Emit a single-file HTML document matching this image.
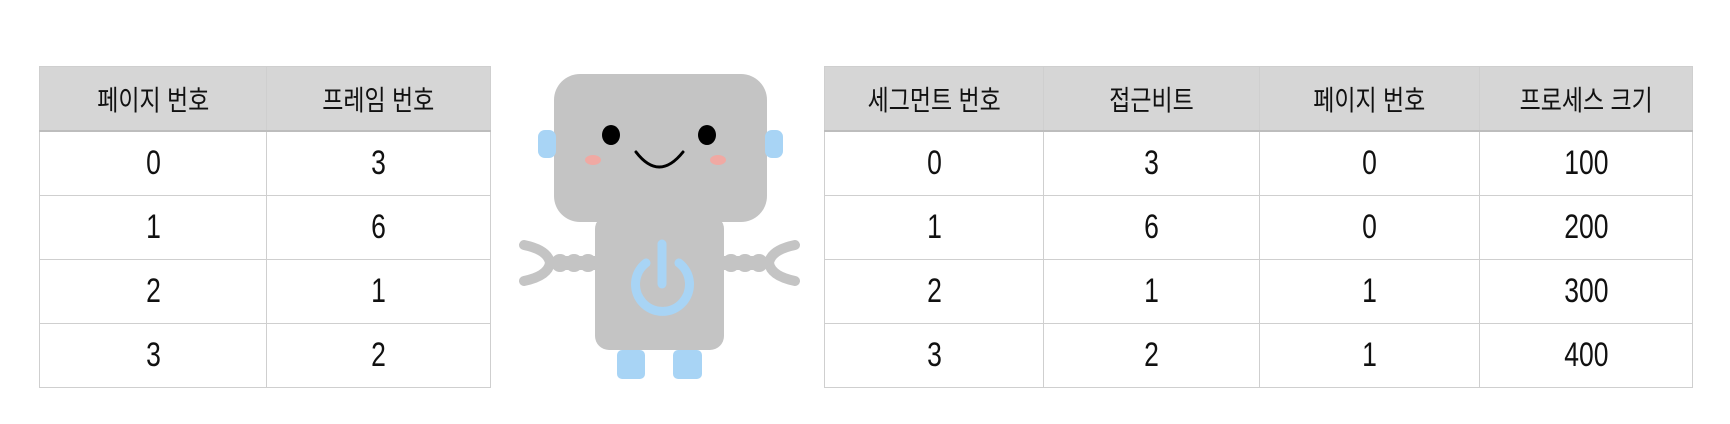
<!DOCTYPE html>
<html><head><meta charset="utf-8">
<style>
html,body{margin:0;padding:0;background:#fff;width:1730px;height:424px;overflow:hidden;}
table{position:absolute;border-collapse:collapse;font-family:"Liberation Sans","Noto Sans CJK KR",sans-serif;color:#111;}
td,th{border:1px solid #cfcfcf;text-align:center;padding:0;}
th{background:#d6d6d6;font-weight:normal;font-size:28px;height:63px;border-bottom:2px solid #bdbdbd;}
td{font-size:34px;height:63px;background:#fff;}
th span{display:inline-block;transform:scaleX(0.82);white-space:nowrap;}
td span{display:inline-block;transform:scaleX(0.78);}
.sep{border-left:1.5px solid #444;}
</style></head><body>
<table style="left:39px;top:66px;width:452px;height:319px;">
<tr><th style="width:226px"><span>페이지 번호</span></th><th class="sep"><span>프레임 번호</span></th></tr>
<tr><td><span>0</span></td><td class="sep"><span>3</span></td></tr>
<tr><td><span>1</span></td><td class="sep"><span>6</span></td></tr>
<tr><td><span>2</span></td><td class="sep"><span>1</span></td></tr>
<tr><td><span>3</span></td><td class="sep"><span>2</span></td></tr>
</table>

<svg style="position:absolute;left:0;top:0" width="1730" height="424">
<g fill="#c4c4c4">
<rect x="554" y="74" width="213" height="148" rx="26"/>
<rect x="595" y="215" width="129" height="135" rx="14"/>
<g>
<circle cx="560" cy="263" r="9"/><circle cx="574" cy="263" r="9"/><circle cx="588" cy="263" r="9"/><rect x="555" y="256" width="42" height="14"/>
<path d="M524 245 Q548 250 550 263 Q548 276 524 281" fill="none" stroke="#c4c4c4" stroke-width="10" stroke-linecap="round"/>
</g>
<g>
<circle cx="731" cy="263" r="9"/><circle cx="745" cy="263" r="9"/><circle cx="759" cy="263" r="9"/><rect x="722" y="256" width="42" height="14"/>
<path d="M795 245 Q771 250 769 263 Q771 276 795 281" fill="none" stroke="#c4c4c4" stroke-width="10" stroke-linecap="round"/>
</g>
</g>
<g fill="#a8d4f5">
<rect x="538" y="130" width="18" height="28" rx="7"/>
<rect x="765" y="130" width="18" height="28" rx="7"/>
<rect x="617" y="350" width="28" height="29" rx="5"/>
<rect x="673" y="350" width="29" height="29" rx="5"/>
</g>
<g fill="none" stroke="#a8d4f5" stroke-width="9" stroke-linecap="round">
<path d="M646 263 A27 27 0 1 0 679 263"/>
<line x1="662" y1="244" x2="662" y2="284"/>
</g>
<ellipse cx="611" cy="135" rx="9" ry="10" fill="#000"/>
<ellipse cx="707" cy="135" rx="9" ry="10" fill="#000"/>
<ellipse cx="593" cy="160" rx="8" ry="5" fill="#f0a9a3"/>
<ellipse cx="718" cy="160" rx="8" ry="5" fill="#f0a9a3"/>
<path d="M636 152 Q659 182 683 152" fill="none" stroke="#000" stroke-width="3" stroke-linecap="round"/>
</svg>

<table style="left:824px;top:66px;width:869px;height:319px;">
<tr><th style="width:218px"><span>세그먼트 번호</span></th><th class="sep" style="width:215px"><span>접근비트</span></th><th style="width:219px"><span>페이지 번호</span></th><th><span>프로세스 크기</span></th></tr>
<tr><td><span>0</span></td><td class="sep"><span>3</span></td><td><span>0</span></td><td><span>100</span></td></tr>
<tr><td><span>1</span></td><td class="sep"><span>6</span></td><td><span>0</span></td><td><span>200</span></td></tr>
<tr><td><span>2</span></td><td class="sep"><span>1</span></td><td><span>1</span></td><td><span>300</span></td></tr>
<tr><td><span>3</span></td><td class="sep"><span>2</span></td><td><span>1</span></td><td><span>400</span></td></tr>
</table>
</body></html>
